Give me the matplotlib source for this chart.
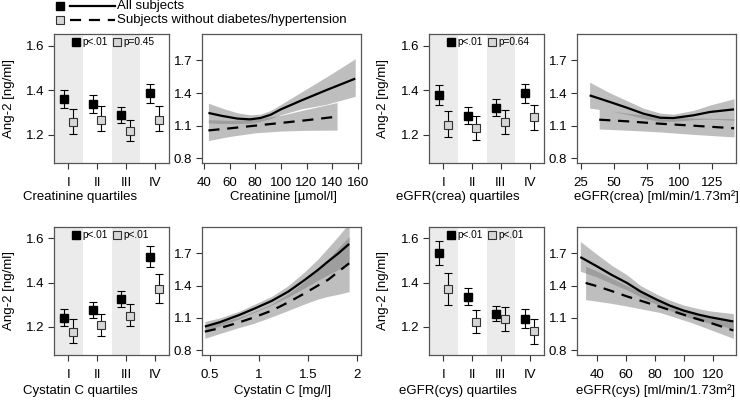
import matplotlib
matplotlib.use('Agg')
import matplotlib.pyplot as plt

plt.rcParams['font.family'] = ['Liberation Sans', 'DejaVu Sans']

# ---------------- data ----------------
quartile_labels = ['I', 'II', 'III', 'IV']

crea_q_all = [1.359, 1.338, 1.288, 1.385]
crea_q_all_lo = [1.320, 1.298, 1.253, 1.344]
crea_q_all_hi = [1.400, 1.377, 1.326, 1.427]
crea_q_sub = [1.256, 1.268, 1.217, 1.268]
crea_q_sub_lo = [1.203, 1.217, 1.170, 1.217]
crea_q_sub_hi = [1.315, 1.329, 1.267, 1.329]
crea_p = ['p<.01', 'p=0.45']

egfrc_q_all = [1.376, 1.283, 1.321, 1.385]
egfrc_q_all_lo = [1.333, 1.248, 1.283, 1.344]
egfrc_q_all_hi = [1.421, 1.323, 1.359, 1.427]
egfrc_q_sub = [1.245, 1.229, 1.256, 1.279]
egfrc_q_sub_lo = [1.190, 1.177, 1.203, 1.223]
egfrc_q_sub_hi = [1.305, 1.283, 1.312, 1.335]
egfrc_p = ['p<.01', 'p=0.64']

cys_q_all = [1.241, 1.278, 1.327, 1.518]
cys_q_all_lo = [1.204, 1.241, 1.291, 1.469]
cys_q_all_hi = [1.281, 1.315, 1.364, 1.566]
cys_q_sub = [1.178, 1.207, 1.249, 1.371]
cys_q_sub_lo = [1.128, 1.158, 1.202, 1.308]
cys_q_sub_hi = [1.234, 1.260, 1.303, 1.441]
cys_p = ['p<.01', 'p<.01']

egfry_q_all = [1.533, 1.337, 1.260, 1.238]
egfry_q_all_lo = [1.480, 1.300, 1.226, 1.193]
egfry_q_all_hi = [1.589, 1.377, 1.296, 1.281]
egfry_q_sub = [1.370, 1.223, 1.235, 1.181]
egfry_q_sub_lo = [1.299, 1.172, 1.182, 1.124]
egfry_q_sub_hi = [1.445, 1.278, 1.290, 1.238]
egfry_p = ['p<.01', 'p<.01']

# continuous curves: all subjects (solid) and subgroup (dashed)
crea_x = [43.5, 54, 66, 76, 84, 92, 100, 116, 135, 158]
crea_y = [1.217, 1.190, 1.165, 1.158, 1.170, 1.200, 1.250, 1.332, 1.425, 1.533]
crea_lo = [1.125, 1.120, 1.120, 1.122, 1.140, 1.165, 1.200, 1.255, 1.295, 1.370]
crea_hi = [1.307, 1.262, 1.218, 1.200, 1.205, 1.240, 1.295, 1.410, 1.545, 1.716]
crea_sx = [43.5, 60, 80, 100, 120, 143.8]
crea_sy = [1.056, 1.075, 1.100, 1.125, 1.150, 1.183]
crea_slo = [0.963, 1.000, 1.034, 1.050, 1.057, 1.059]
crea_shi = [1.155, 1.148, 1.160, 1.195, 1.250, 1.313]

egfrc_x = [31.6, 47.3, 60, 72.6, 85.3, 95.4, 110.6, 123.3, 141.5]
egfrc_y = [1.379, 1.317, 1.265, 1.210, 1.173, 1.170, 1.195, 1.226, 1.250]
egfrc_lo = [1.262, 1.235, 1.205, 1.165, 1.140, 1.140, 1.155, 1.160, 1.150]
egfrc_hi = [1.500, 1.400, 1.330, 1.260, 1.216, 1.205, 1.240, 1.290, 1.348]
egfrc_sx = [38.9, 60, 85, 110, 141.5]
egfrc_sy = [1.155, 1.140, 1.118, 1.100, 1.076]
egfrc_slo = [1.069, 1.058, 1.042, 1.020, 0.996]
egfrc_shi = [1.250, 1.215, 1.185, 1.170, 1.164]

cys_x = [0.449, 0.6, 0.793, 0.95, 1.13, 1.3, 1.467, 1.6, 1.703, 1.81, 1.919]
cys_y = [1.020, 1.060, 1.125, 1.185, 1.258, 1.345, 1.453, 1.545, 1.623, 1.700, 1.787]
cys_lo = [0.985, 1.025, 1.090, 1.150, 1.220, 1.295, 1.380, 1.450, 1.500, 1.550, 1.607]
cys_hi = [1.066, 1.100, 1.160, 1.225, 1.300, 1.400, 1.530, 1.645, 1.750, 1.860, 1.980]
cys_sx = [0.449, 0.6, 0.793, 0.95, 1.13, 1.3, 1.467, 1.6, 1.703, 1.81, 1.919]
cys_sy = [0.973, 1.005, 1.057, 1.105, 1.168, 1.245, 1.329, 1.400, 1.453, 1.530, 1.607]
cys_slo = [0.911, 0.955, 1.010, 1.050, 1.110, 1.170, 1.230, 1.275, 1.300, 1.320, 1.344]
cys_shi = [1.035, 1.060, 1.105, 1.160, 1.230, 1.325, 1.440, 1.550, 1.640, 1.750, 1.855]

egfry_x = [28.6, 40, 50, 60.6, 70, 81.1, 90, 99.4, 110, 117.7, 133.7]
egfry_y = [1.665, 1.579, 1.500, 1.425, 1.345, 1.270, 1.215, 1.169, 1.130, 1.107, 1.067]
egfry_lo = [1.533, 1.480, 1.420, 1.360, 1.295, 1.225, 1.170, 1.120, 1.075, 1.050, 1.000]
egfry_hi = [1.810, 1.690, 1.590, 1.500, 1.400, 1.320, 1.265, 1.220, 1.185, 1.165, 1.140]
egfry_sx = [32.2, 40, 50, 60.6, 70, 83.4, 95, 106.3, 120, 133.7]
egfry_sy = [1.425, 1.395, 1.350, 1.300, 1.260, 1.203, 1.150, 1.101, 1.045, 0.984]
egfry_slo = [1.270, 1.255, 1.235, 1.210, 1.185, 1.150, 1.100, 1.050, 0.980, 0.910]
egfry_shi = [1.580, 1.535, 1.470, 1.400, 1.340, 1.260, 1.200, 1.150, 1.105, 1.060]

# ---------------- layout ----------------
W, H = 740, 403
fig = plt.figure(figsize=(W / 100, H / 100), dpi=100)

FS = 9.5
EDGE = '#555555'
GRAYSQ = '#d6d6d6'


def ax_px(x0, y0, x1, y1):
    return fig.add_axes([x0 / W, 1 - y1 / H, (x1 - x0) / W, (y1 - y0) / H])


def style(ax):
    for s in ax.spines.values():
        s.set_color(EDGE)
        s.set_linewidth(0.9)
    ax.tick_params(direction='out', length=4, width=0.8, color='#333333',
                   labelsize=FS, pad=3)


def quart(ax, m1, l1, h1, m2, l2, h2, pv):
    style(ax)
    ax.axvspan(0.5, 1.5, color='#ebebeb', lw=0, zorder=0)
    ax.axvspan(2.5, 3.5, color='#ebebeb', lw=0, zorder=0)
    pos = [1, 2, 3, 4]
    xa = [p - 0.16 for p in pos]
    xs = [p + 0.15 for p in pos]
    ax.errorbar(xa, m1, yerr=[[m - l for m, l in zip(m1, l1)], [h - m for m, h in zip(m1, h1)]],
                fmt='s', color='black', mfc='black', mec='black', ms=5.8,
                elinewidth=0.8, capsize=2.8, capthick=0.8, zorder=3)
    ax.errorbar(xs, m2, yerr=[[m - l for m, l in zip(m2, l2)], [h - m for m, h in zip(m2, h2)]],
                fmt='s', color='black', mfc=GRAYSQ, mec='#333333', mew=0.8, ms=5.8,
                elinewidth=0.8, capsize=2.8, capthick=0.8, zorder=3)
    ax.set_xlim(0.5, 4.5)
    ax.set_ylim(1.073, 1.652)
    ax.set_xticks(pos)
    ax.set_xticklabels(quartile_labels)
    ax.set_yticks([1.2, 1.4, 1.6])
    ax.set_yticklabels(['1.2', '1.4', '1.6'])
    ax.tick_params(axis='x', pad=6)
    # p-value legend
    yl = 1.617
    ax.plot([1.26], [yl], 's', color='black', ms=5.2, zorder=4)
    ax.text(1.48, yl, pv[0], fontsize=7.3, va='center', ha='left')
    ax.plot([2.68], [yl], 's', mfc=GRAYSQ, mec='#333333', mew=0.8, ms=5.2, zorder=4)
    ax.text(2.90, yl, pv[1], fontsize=7.3, va='center', ha='left')


def curve(ax, x, y, lo, hi, sx, sy, slo, shi, xlim, xticks, xtl):
    style(ax)
    ax.fill_between(x, lo, hi, color='#7f7f7f', alpha=0.5, lw=0, zorder=1)
    ax.fill_between(sx, slo, shi, color='#7f7f7f', alpha=0.5, lw=0, zorder=1)
    ax.plot(x, y, color='black', lw=1.6, zorder=3, solid_capstyle='butt')
    ax.plot(sx, sy, color='black', lw=1.6, ls=(0, (5, 3.5)), zorder=3)
    ax.set_xlim(*xlim)
    ax.set_ylim(0.756, 1.944)
    ax.set_xticks(xticks)
    ax.set_xticklabels(xtl)
    ax.set_yticks([0.8, 1.1, 1.4, 1.7])
    ax.set_yticklabels(['0.8', '1.1', '1.4', '1.7'])
    ax.tick_params(axis='x', pad=6)


top = (34, 163)
bot = (227, 355)

a1 = ax_px(54, top[0], 169, top[1])
quart(a1, crea_q_all, crea_q_all_lo, crea_q_all_hi, crea_q_sub, crea_q_sub_lo, crea_q_sub_hi, crea_p)
a2 = ax_px(202, top[0], 361, top[1])
curve(a2, crea_x, crea_y, crea_lo, crea_hi, crea_sx, crea_sy, crea_slo, crea_shi,
      (38.5, 162.5), [40, 60, 80, 100, 120, 140, 160], ['40', '60', '80', '100', '120', '140', '160'])
a3 = ax_px(429, top[0], 544, top[1])
quart(a3, egfrc_q_all, egfrc_q_all_lo, egfrc_q_all_hi, egfrc_q_sub, egfrc_q_sub_lo, egfrc_q_sub_hi, egfrc_p)
a4 = ax_px(577, top[0], 736, top[1])
curve(a4, egfrc_x, egfrc_y, egfrc_lo, egfrc_hi, egfrc_sx, egfrc_sy, egfrc_slo, egfrc_shi,
      (22, 143), [25, 50, 75, 100, 125], ['25', '50', '75', '100', '125'])

b1 = ax_px(54, bot[0], 169, bot[1])
quart(b1, cys_q_all, cys_q_all_lo, cys_q_all_hi, cys_q_sub, cys_q_sub_lo, cys_q_sub_hi, cys_p)
b2 = ax_px(202, bot[0], 361, bot[1])
curve(b2, cys_x, cys_y, cys_lo, cys_hi, cys_sx, cys_sy, cys_slo, cys_shi,
      (0.42, 2.04), [0.5, 1, 1.5, 2], ['0.5', '1', '1.5', '2'])
b3 = ax_px(429, bot[0], 544, bot[1])
quart(b3, egfry_q_all, egfry_q_all_lo, egfry_q_all_hi, egfry_q_sub, egfry_q_sub_lo, egfry_q_sub_hi, egfry_p)
b4 = ax_px(577, bot[0], 736, bot[1])
curve(b4, egfry_x, egfry_y, egfry_lo, egfry_hi, egfry_sx, egfry_sy, egfry_slo, egfry_shi,
      (26.3, 135.5), [40, 60, 80, 100, 120], ['40', '60', '80', '100', '120'])


def ftext(x, y, s, **kw):
    fig.text(x / W, 1 - y / H, s, fontsize=FS, **kw)


# y labels
for xx in (9, 383):
    for yy in (98, 291):
        ftext(xx, yy, 'Ang-2 [ng/ml]', rotation=90, ha='center', va='center')

# x labels
ftext(80, 197, 'Creatinine quartiles', ha='center', va='center')
ftext(283, 197, 'Creatinine [\u00b5mol/l]', ha='center', va='center')
ftext(458, 197, 'eGFR(crea) quartiles', ha='center', va='center')
ftext(656, 197, 'eGFR(crea) [ml/min/1.73m\u00b2]', ha='center', va='center')
ftext(80, 391, 'Cystatin C quartiles', ha='center', va='center')
ftext(283, 391, 'Cystatin C [mg/l]', ha='center', va='center')
ftext(458, 391, 'eGFR(cys) quartiles', ha='center', va='center')
ftext(656, 391, 'eGFR(cys) [ml/min/1.73m\u00b2]', ha='center', va='center')

# top legend
lg = fig.add_axes([0, 0, 1, 1], facecolor='none')
lg.set_xlim(0, W)
lg.set_ylim(H, 0)
lg.axis('off')
lg.plot([60], [5.5], 's', color='black', ms=5.5)
lg.plot([70, 115], [5.5, 5.5], color='black', lw=1.6)
lg.text(117, 5.5, 'All subjects', fontsize=FS, va='center', ha='left')
lg.plot([60], [19.5], 's', mfc=GRAYSQ, mec='#333333', mew=0.8, ms=5.5)
lg.plot([70, 115], [19.5, 19.5], color='black', lw=1.6, ls=(0, (5, 3.5)))
lg.text(117, 19.5, 'Subjects without diabetes/hypertension', fontsize=FS, va='center', ha='left')

fig.savefig('out.png', dpi=100)
